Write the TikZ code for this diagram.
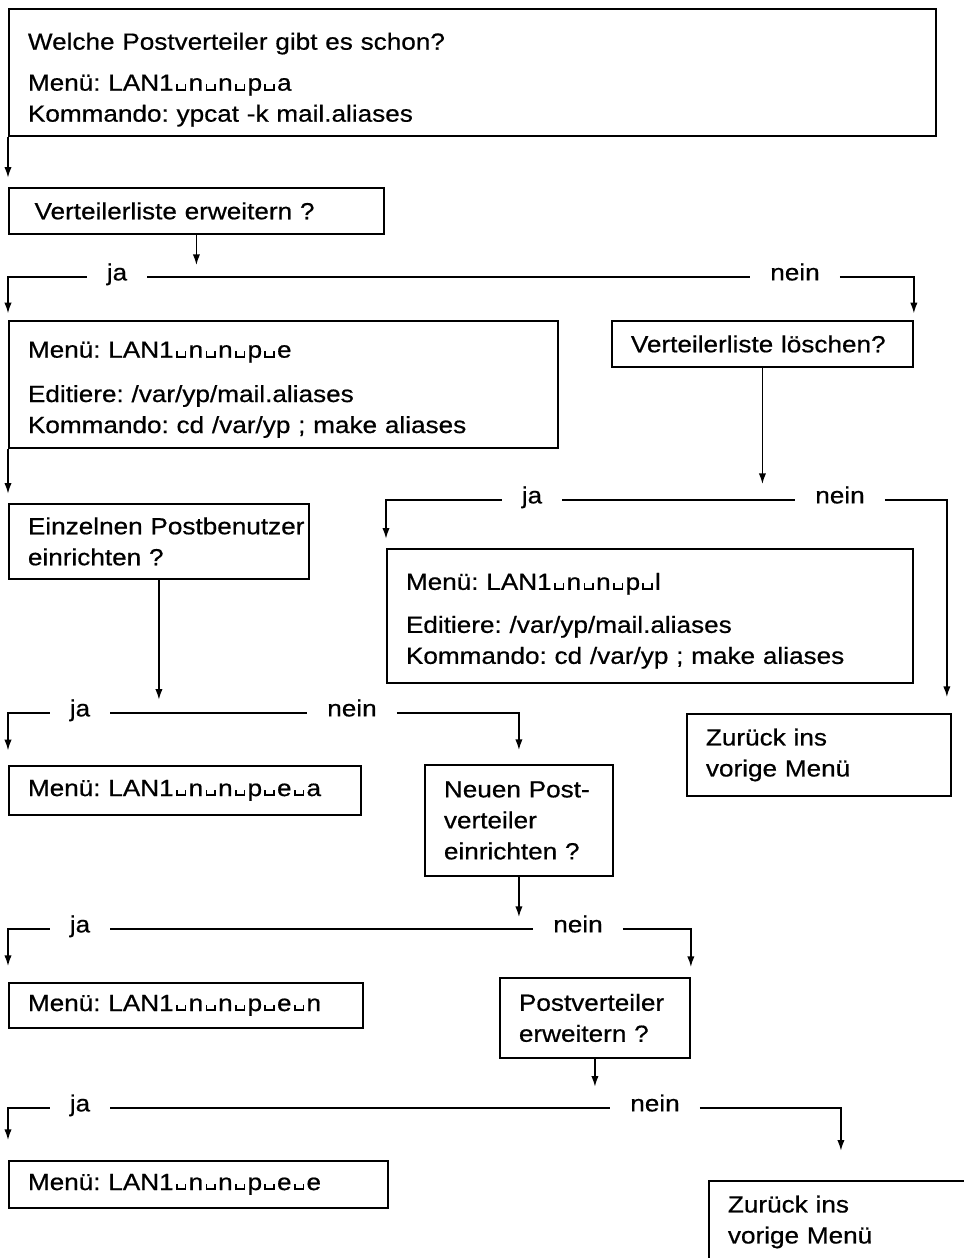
\documentclass[tikz,border=0pt]{standalone}
\usepackage{fontspec}
\setmainfont{Liberation Sans}[FakeStretch=1.12, FakeBold=0.6]
\usetikzlibrary{arrows.meta}

\newcommand\schrift{\fontsize{17.5pt}{23.25pt}\selectfont\frenchspacing}
% Leerzeichen-Symbol
\newcommand\leer{\kern0.1em\vrule height0.28em depth0pt width0.07em\vrule height0.07em depth0pt width0.3em\vrule height0.28em depth0pt width0.07em\kern0.1em}

\begin{document}
\begin{tikzpicture}[x=0.75pt, y=-0.75pt, font=\schrift,
    kasten/.style={draw, line width=1.4pt, anchor=north west, align=left, inner xsep=14.25pt, inner ysep=0pt},
    antwort/.style={inner xsep=15pt, inner ysep=0pt, text height=0.72em, text depth=0.21em},
    linie/.style={line width=1.1pt},
    pfeil/.style={linie, -{Latex[length=8pt,width=5.5pt]}}]
    \useasboundingbox (0,0) rectangle (964,1258);
    \clip (0,0) rectangle (964,1258);

    % Kaesten
    \node[kasten, text width=666.75pt, minimum height=95.25pt] (welche) at (8,8)
        {\rule{0pt}{23.5pt}Welche Postverteiler gibt es schon?\\[7.5pt]
         Menü: LAN1\leer n\leer n\leer p\leer a\\
         Kommando: ypcat -k mail.aliases};
    \node[kasten, text width=252.75pt, minimum height=34.5pt] (erweitern) at (8,187)
        {\hspace*{5pt}Verteilerliste erweitern ?};
    \node[kasten, text width=383.25pt, minimum height=95.25pt] (menuE) at (8,320)
        {\rule{0pt}{20pt}Menü: LAN1\leer n\leer n\leer p\leer e\\[10pt]
         Editiere: /var/yp/mail.aliases\\
         Kommando: cd /var/yp ; make aliases};
    \node[kasten, text width=197.25pt, minimum height=34.5pt] (loeschen) at (611,320)
        {Verteilerliste löschen?};
    \node[kasten, text width=196.5pt, minimum height=56.25pt] (einzeln) at (8,503)
        {\mbox{Einzelnen Postbenutzer}\\ einrichten ?};
    \node[kasten, text width=366pt, minimum height=100.5pt] (menuL) at (386,548)
        {\rule{0pt}{20pt}Menü: LAN1\leer n\leer n\leer p\leer l\\[9pt]
         Editiere: /var/yp/mail.aliases\\
         Kommando: cd /var/yp ; make aliases};
    \node[kasten, text width=169.5pt, minimum height=61.5pt] (zurueck1) at (686,713)
        {Zurück ins\\ vorige Menü};
    \node[kasten, text width=235.5pt, minimum height=36.75pt] (menuEA) at (8,765)
        {Menü: LAN1\leer n\leer n\leer p\leer e\leer a};
    \node[kasten, text width=112.5pt, minimum height=83.25pt] (neuen) at (424,764)
        {Neuen Post-\\ verteiler\\ einrichten ?};
    \node[kasten, text width=237pt, minimum height=33.75pt] (menuEN) at (8,982)
        {Menü: LAN1\leer n\leer n\leer p\leer e\leer n};
    \node[kasten, text width=114pt, minimum height=60pt] (erwPV) at (499,977)
        {Postverteiler\\ erweitern ?};
    \node[kasten, text width=255.75pt, minimum height=35.25pt] (menuEE) at (8,1160)
        {Menü: LAN1\leer n\leer n\leer p\leer e\leer e};
    \node[kasten, text width=169.5pt, minimum height=61.5pt] (zurueck2) at (708,1180)
        {Zurück ins\\ vorige Menü};

    % ja / nein
    \node[antwort] (ja1) at (117,277) {ja};
    \node[antwort] (nein1) at (795,277) {nein};
    \node[antwort] (ja2) at (532,500) {ja};
    \node[antwort] (nein2) at (840,500) {nein};
    \node[antwort] (ja3) at (80,713) {ja};
    \node[antwort] (nein3) at (352,713) {nein};
    \node[antwort] (ja4) at (80,929) {ja};
    \node[antwort] (nein4) at (578,929) {nein};
    \node[antwort] (ja5) at (80,1108) {ja};
    \node[antwort] (nein5) at (655,1108) {nein};

    % Verbindungen
    \draw[pfeil, shorten >=7pt] (welche.south west) -- (erweitern.north west);

    \draw[pfeil, shorten >=9pt] (erweitern.south) -- (erweitern.south |- ja1);
    \draw[pfeil, shorten >=5pt] (ja1.west) -| (menuE.north west);
    \draw[linie] (ja1.east) -- (nein1.west);
    \draw[pfeil, shorten >=5pt] (nein1.east) -| (loeschen.north east);

    \draw[pfeil, shorten >=7pt] (menuE.south west) -- (einzeln.north west);

    \draw[pfeil, shorten >=12pt] (loeschen.south) -- (loeschen.south |- ja2);
    \draw[pfeil, shorten >=7pt] (ja2.west) -| (menuL.north west);
    \draw[linie] (ja2.east) -- (nein2.west);
    \draw[pfeil, shorten >=12pt] (nein2.east) -| ([xshift=-3.75pt]zurueck1.north east);

    \draw[pfeil, shorten >=10pt] (einzeln.south) -- (einzeln.south |- ja3);
    \draw[pfeil, shorten >=11pt] (ja3.west) -| (menuEA.north west);
    \draw[linie] (ja3.east) -- (nein3.west);
    \draw[pfeil, shorten >=10.5pt] (nein3.east) -| (neuen.north);

    \draw[pfeil, shorten >=9pt] (neuen.south) -- (neuen.south |- ja4);
    \draw[pfeil, shorten >=12pt] (ja4.west) -| (menuEN.north west);
    \draw[linie] (ja4.east) -- (nein4.west);
    \draw[pfeil, shorten >=7.5pt] (nein4.east) -| (erwPV.north east);

    \draw[pfeil, shorten >=16pt] (erwPV.south) -- (erwPV.south |- ja5);
    \draw[pfeil, shorten >=15pt] (ja5.west) -| (menuEE.north west);
    \draw[linie] (ja5.east) -- (nein5.west);
    \draw[pfeil, shorten >=22pt] (nein5.east) -| (zurueck2.north);
\end{tikzpicture}
\end{document}
